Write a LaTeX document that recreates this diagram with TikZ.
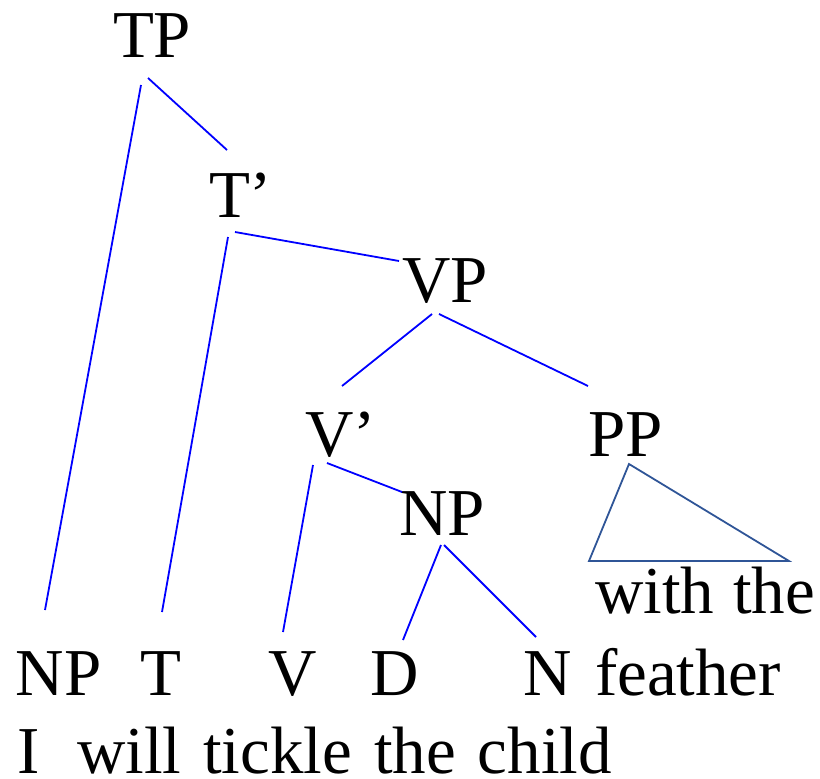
\documentclass[tikz,border=0pt]{standalone}
\usepackage{fontspec}
\setmainfont{Liberation Serif}
\begin{document}
\begin{tikzpicture}[x=1pt,y=-1pt,
  lbl/.style={anchor=base west,inner sep=0pt,outer sep=0pt,font=\fontsize{67}{70}\selectfont},
  branch/.style={draw=blue,line width=1.8pt},
  tri/.style={draw=triblue,line width=1.8pt,line join=miter}]
\definecolor{triblue}{HTML}{2F5597}
\useasboundingbox (0,0) rectangle (820,779);
% labels
\node[lbl] (TP) at (113,57) {TP};
\node[lbl] (Tbar) at (209,217) {T'};
\node[lbl] (VP) at (402,302) {VP};
\node[lbl] (Vbar) at (305,456) {V'};
\node[lbl] (PP) at (588,456) {PP};
\node[lbl] (NPo) at (399,535) {NP};
\node[lbl] (NPs) at (16,695) {NP};
\node[lbl] (T) at (140,695) {T};
\node[lbl] (V) at (268,695) {V};
\node[lbl] (D) at (370,695) {D};
\node[lbl] (N) at (523,695) {N};
\node[lbl] (with) at (595,613) {with\hspace{19pt}the};
\node[lbl] (feather) at (595,695) {feather};
\node[lbl] (I) at (17,773) {I};
\node[lbl] (words) at (77,773) {will\hspace{22pt}tickle\hspace{22pt}the\hspace{22pt}child};
% branch end points
\coordinate (tp-a) at (141,85);  \coordinate (nps-t) at (45,610);
\coordinate (tp-b) at (148,78);  \coordinate (tbar-t) at (227,150);
\coordinate (tb-a) at (228,237); \coordinate (t-t) at (162,612);
\coordinate (tb-b) at (235,232); \coordinate (vp-t) at (399,261);
\coordinate (vp-a) at (432,314); \coordinate (vbar-t) at (342,386);
\coordinate (vp-b) at (439,314); \coordinate (pp-t) at (588,386);
\coordinate (vb-a) at (313,465); \coordinate (v-t) at (283,632);
\coordinate (vb-b) at (327,463); \coordinate (npo-t) at (402,492);
\coordinate (np-a) at (441,545); \coordinate (d-t) at (403,640);
\coordinate (np-b) at (444,545); \coordinate (n-t) at (536,637);
\coordinate (tri-a) at (629,464); \coordinate (tri-l) at (589,561); \coordinate (tri-r) at (789,561);
% branches
\draw[branch] (tp-a) -- (nps-t);
\draw[branch] (tp-b) -- (tbar-t);
\draw[branch] (tb-a) -- (t-t);
\draw[branch] (tb-b) -- (vp-t);
\draw[branch] (vp-a) -- (vbar-t);
\draw[branch] (vp-b) -- (pp-t);
\draw[branch] (vb-a) -- (v-t);
\draw[branch] (vb-b) -- (npo-t);
\draw[branch] (np-a) -- (d-t);
\draw[branch] (np-b) -- (n-t);
\draw[tri] (tri-a) -- (tri-l) -- (tri-r) -- cycle;
\end{tikzpicture}
\end{document}
